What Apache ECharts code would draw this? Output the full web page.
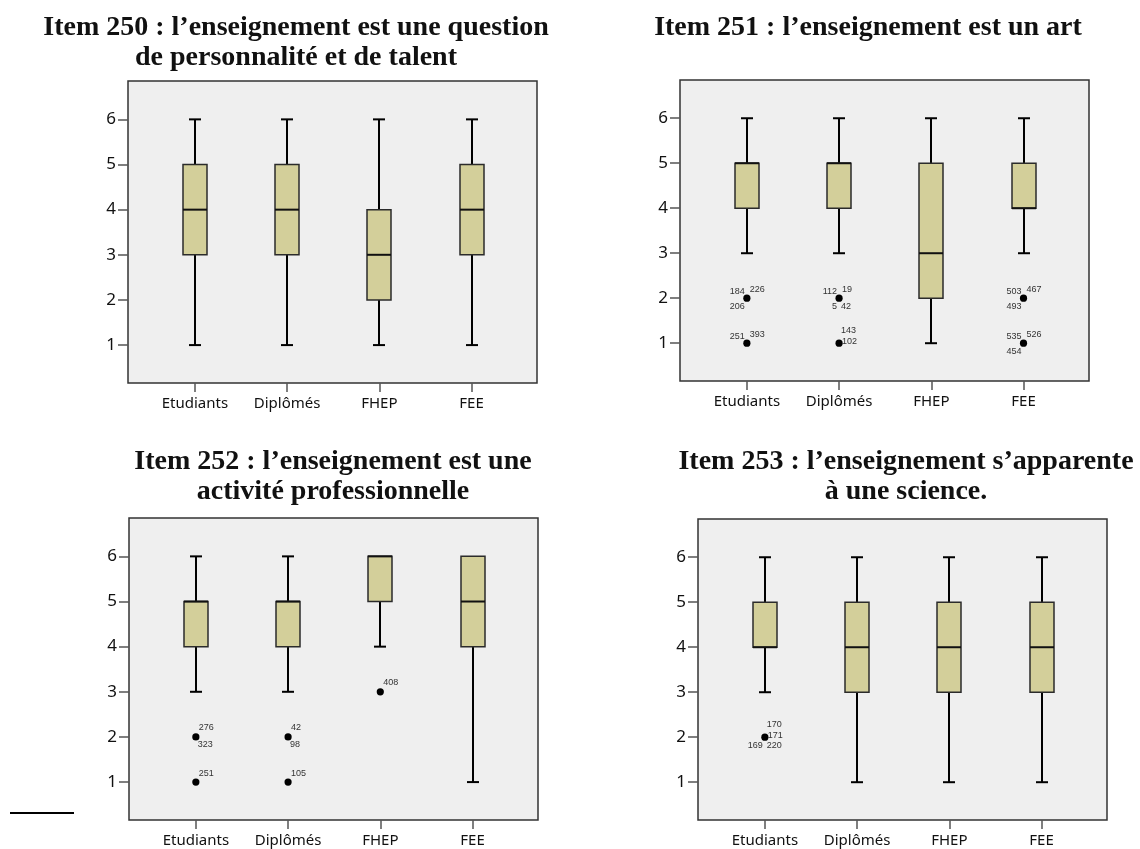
<!DOCTYPE html>
<html><head><meta charset="utf-8">
<script src="https://cdn.jsdelivr.net/npm/echarts@6/dist/echarts.min.js"></script>
<style>html,body{margin:0;padding:0;background:#fff}#c{width:1140px;height:849px}</style>
</head><body><div id="c"></div>
<script>
// ---------- data ----------
const groups = ['Etudiants', 'Diplômés', 'FHEP', 'FEE'];
const groupPos = [1, 2, 3, 4];
const yTicks = [1, 2, 3, 4, 5, 6];
const titles = [
  'Item 250 : l’enseignement est une question\nde personnalité et de talent',
  'Item 251 : l’enseignement est un art',
  'Item 252 : l’enseignement est une\nactivité professionnelle',
  'Item 253 : l’enseignement s’apparente\nà une science.'
];
// [min, Q1, median, Q3, max] per group
const item250 = [[1, 3, 4, 5, 6], [1, 3, 4, 5, 6], [1, 2, 3, 4, 6], [1, 3, 4, 5, 6]];
const item251 = [[3, 4, 5, 5, 6], [3, 4, 5, 5, 6], [1, 2, 3, 5, 6], [3, 4, 4, 5, 6]];
const item252 = [[3, 4, 5, 5, 6], [3, 4, 5, 5, 6], [4, 5, 6, 6, 6], [1, 4, 5, 6, 6]];
const item253 = [[3, 4, 4, 5, 6], [1, 3, 4, 5, 6], [1, 3, 4, 5, 6], [1, 3, 4, 5, 6]];
// outliers: [group position, value]
const out250 = [];
const out251 = [[1, 2], [1, 1], [2, 2], [2, 1], [4, 2], [4, 1]];
const out252 = [[1, 2], [1, 1], [2, 2], [2, 1], [3, 3]];
const out253 = [[1, 2]];
// case ids printed around each outlier (keyed by slot)
const ids250 = [];
const ids251 = [
  {tl: '184', tr: '226', bl: '206'}, {tl: '251', tr: '393'},
  {tl: '112', tr: '19', bl: '5', br: '42'}, {rt: '143', r: '102'},
  {tl: '503', tr: '467', bl: '493'}, {tl: '535', tr: '526', bl: '454'}
];
const ids252 = [{tr: '276', br: '323'}, {tr: '251'}, {tr: '42', br: '98'}, {tr: '105'}, {tr: '408'}];
const ids253 = [{rt: '170', r: '171', bl: '169', br: '220'}];

const boxes = [item250, item251, item252, item253];
const outs = [out250, out251, out252, out253];
const ids = [ids250, ids251, ids252, ids253];

// ---------- layout / style ----------
const grids = [
  {left: 128, top: 81, width: 409, height: 302},
  {left: 680, top: 80, width: 409, height: 301},
  {left: 129, top: 518, width: 409, height: 302},
  {left: 698, top: 519, width: 409, height: 301}
];
const titlePos = [
  {left: 296, top: 13}, {left: 868, top: 13}, {left: 333, top: 447}, {left: 906, top: 447}
];
const slots = {
  tl: {dx: -2, dy: -7, align: 'right'},
  tr: {dx: 3, dy: -9, align: 'left'},
  bl: {dx: -2, dy: 8, align: 'right'},
  br: {dx: 2, dy: 8, align: 'left'},
  r: {dx: 3, dy: -2, align: 'left'},
  rt: {dx: 2, dy: -13, align: 'left'}
};
const sansFont = '"Noto Sans", "Liberation Sans", sans-serif';

function renderBox(params, api) {
  const x = api.value(0);
  const mn = api.value(1), q1 = api.value(2), md = api.value(3), q3 = api.value(4), mx = api.value(5);
  const pMin = api.coord([x, mn]), pQ1 = api.coord([x, q1]), pMd = api.coord([x, md]),
        pQ3 = api.coord([x, q3]), pMax = api.coord([x, mx]);
  const cx = Math.round(pMin[0]);
  const bw = 24, cw = 12;
  const ls = {stroke: '#000', lineWidth: 2};
  const ch = [];
  if (mx > q3) {
    ch.push({type: 'line', shape: {x1: cx, y1: pMax[1], x2: cx, y2: pQ3[1]}, style: ls});
    ch.push({type: 'line', shape: {x1: cx - cw / 2, y1: pMax[1], x2: cx + cw / 2, y2: pMax[1]}, style: ls});
  }
  if (mn < q1) {
    ch.push({type: 'line', shape: {x1: cx, y1: pQ1[1], x2: cx, y2: pMin[1]}, style: ls});
    ch.push({type: 'line', shape: {x1: cx - cw / 2, y1: pMin[1], x2: cx + cw / 2, y2: pMin[1]}, style: ls});
  }
  ch.push({type: 'rect', shape: {x: cx - bw / 2, y: pQ3[1], width: bw, height: pQ1[1] - pQ3[1]},
    style: {fill: '#d3cf9a', stroke: '#2b2b2b', lineWidth: 1.5}});
  ch.push({type: 'line', shape: {x1: cx - bw / 2, y1: pMd[1], x2: cx + bw / 2, y2: pMd[1]},
    style: {stroke: '#111', lineWidth: 2}});
  return {type: 'group', children: ch};
}

function makeOutlierRenderer(labelSets) {
  return function (params, api) {
    const p = api.coord([api.value(0), api.value(1)]);
    const ch = [{type: 'circle', shape: {cx: p[0], cy: p[1], r: 3.6}, style: {fill: '#000'}}];
    const set = labelSets[params.dataIndex] || {};
    Object.keys(set).forEach(k => {
      const s = slots[k];
      ch.push({type: 'text', x: p[0] + s.dx, y: p[1] + s.dy,
        style: {text: set[k], fill: '#333', font: '9px "Liberation Sans", Arial, sans-serif',
          align: s.align, verticalAlign: 'middle'}});
    });
    return {type: 'group', children: ch};
  };
}

const option = {
  animation: false,
  backgroundColor: '#ffffff',
  title: titles.map((t, i) => ({
    text: t, left: titlePos[i].left, top: titlePos[i].top, textAlign: 'center',
    padding: 0,
    textStyle: {fontFamily: '"Liberation Serif", "DejaVu Serif", serif', fontWeight: 'bold',
      fontSize: 28, lineHeight: 30, color: '#111'}
  })),
  grid: grids.map(g => Object.assign({show: true, backgroundColor: '#efefef', borderColor: '#333',
    borderWidth: 1.5, containLabel: false, outerBoundsMode: 'none'}, g)),
  xAxis: grids.map((g, i) => ({
    gridIndex: i, type: 'value', min: 0.275, max: 4.71,
    axisLine: {show: false}, splitLine: {show: false},
    axisTick: {show: true, customValues: groupPos, length: 9, lineStyle: {color: '#555', width: 1.5}},
    axisLabel: {customValues: groupPos, formatter: v => groups[Math.round(v) - 1], margin: 13,
      fontFamily: sansFont, fontSize: 15, color: '#111'}
  })),
  yAxis: grids.map((g, i) => ({
    gridIndex: i, type: 'value', min: 0.16, max: 6.85,
    axisLine: {show: false}, splitLine: {show: false},
    axisTick: {show: true, customValues: yTicks, length: 10, lineStyle: {color: '#555', width: 1.5}},
    axisLabel: {customValues: yTicks, margin: 12, fontFamily: sansFont, fontSize: 17, color: '#111'}
  })),
  series: [],
  graphic: [{type: 'line', shape: {x1: 10, y1: 813, x2: 74, y2: 813}, style: {stroke: '#000', lineWidth: 2}}]
};

boxes.forEach((b, i) => {
  option.series.push({
    type: 'custom', xAxisIndex: i, yAxisIndex: i, renderItem: renderBox,
    encode: {x: 0, y: [1, 2, 3, 4, 5]},
    data: b.map((d, j) => [groupPos[j]].concat(d)), z: 2
  });
  option.series.push({
    type: 'custom', xAxisIndex: i, yAxisIndex: i, renderItem: makeOutlierRenderer(ids[i]),
    encode: {x: 0, y: 1}, data: outs[i], z: 3
  });
});

const chart = echarts.init(document.getElementById('c'), null, {renderer: 'canvas'});
chart.setOption(option);
</script></body></html>
